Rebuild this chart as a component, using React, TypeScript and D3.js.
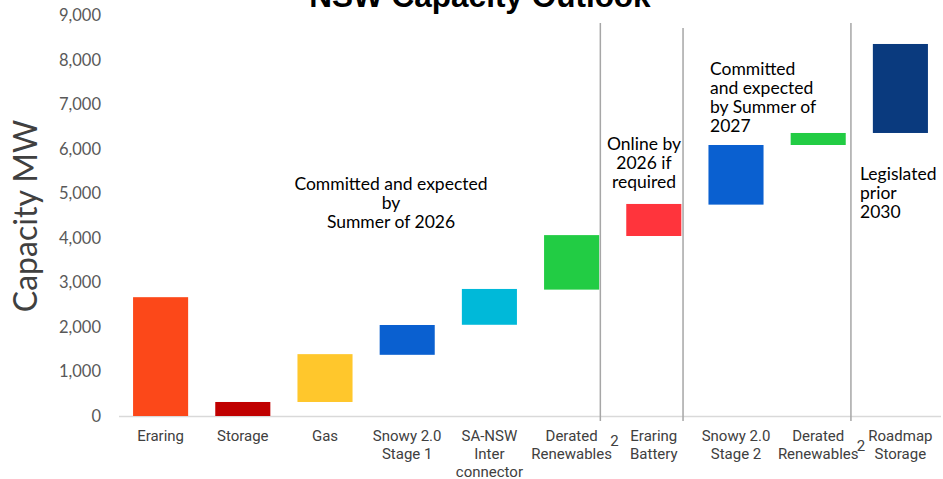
import React from "react";
import * as d3 from "d3";

const categories = ["Eraring", "Storage", "Gas", "Snowy 2.0 Stage 1", "SA-NSW Inter connector", "Derated Renewables", "Eraring Battery", "Snowy 2.0 Stage 2", "Derated Renewables", "Roadmap Storage"];
const categoryLines = [["Eraring"], ["Storage"], ["Gas"], ["Snowy 2.0", "Stage 1"], ["SA-NSW", "Inter", "connector"], ["Derated", "Renewables"], ["Eraring", "Battery"], ["Snowy 2.0", "Stage 2"], ["Derated", "Renewables"], ["Roadmap", "Storage"]];
const bottoms = [0, 0, 315, 1375, 2050, 2840, 4045, 4750, 6090, 6360];
const tops = [2670, 315, 1390, 2045, 2855, 4065, 4765, 6090, 6360, 8360];
const colors = ["#FC4819", "#C00000", "#FFC72C", "#0A60D0", "#00B9D9", "#22CC44", "#FF343C", "#0A60D0", "#22CC44", "#0A3A7E"];
const yTicks = [0, 1000, 2000, 3000, 4000, 5000, 6000, 7000, 8000, 9000];
const separatorsAfter = [5, 6, 8];
const separatorOffsets = [1.2, 1.7, 5.2];
const separatorTops = [23, 28, 23];

export default function App() {
  const W = 943, H = 479;
  const x = d3.scaleBand<number>().domain(d3.range(categories.length)).range([119.5, 941.5]).paddingInner(0.33).paddingOuter(0.165);
  const y = d3.scaleLinear().domain([0, 9000]).range([416, 15.5]);
  const fmt = d3.format(",");
  const annFont = "Lato, 'Open Sans', sans-serif";
  const labFont = "'Liberation Sans Narrow', 'Roboto', sans-serif";
  return (
    <svg width={W} height={H} style={{ position: "absolute", left: 0, top: 0, background: "#fff" }}>
      <text x={480} y={7} textAnchor="middle" fontFamily="'Liberation Sans', Arial, sans-serif" fontWeight="bold" fontSize={31.5} fill="#000">NSW Capacity Outlook</text>
      {yTicks.map((t) => (
        <text key={t} x={101} y={y(t)} dy="0.35em" textAnchor="end" fontFamily={annFont} fontSize={16.5} fill="#595959">{fmt(t)}</text>
      ))}
      <text transform={`translate(37,216) rotate(-90)`} textAnchor="middle" fontFamily={annFont} fontSize={32} fill="#404040">Capacity MW</text>
      <line x1={119} x2={941} y1={416.5} y2={416.5} stroke="#d9d9d9" strokeWidth={1.5} />
      {separatorsAfter.map((i, k) => {
        const sx = x(i)! + x.bandwidth() + separatorOffsets[k];
        return <line key={k} x1={sx} x2={sx} y1={separatorTops[k]} y2={421} stroke="#a6a6a6" strokeWidth={1.5} />;
      })}
      {categories.map((c, i) => (
        <rect key={i} x={x(i)} width={x.bandwidth()} y={y(tops[i])} height={y(bottoms[i]) - y(tops[i])} fill={colors[i]} />
      ))}
      {categoryLines.map((lines, i) => (
        <text key={i} textAnchor="middle" fontFamily={labFont} fontSize={15} fill="#404040">
          {lines.map((l, j) => (
            <tspan key={j} x={x(i)! + x.bandwidth() / 2} y={441 + j * 18}>{l}</tspan>
          ))}
        </text>
      ))}
      <text x={x(5)! + x.bandwidth() + 11} y={446} fontFamily={labFont} fontSize={15} fill="#404040">2</text>
      <text x={x(8)! + x.bandwidth() + 11} y={451} fontFamily={labFont} fontSize={15} fill="#404040">2</text>
      <text textAnchor="middle" fontFamily={annFont} fontSize={17.5} fill="#000">
        {["Committed and expected", "by", "Summer of 2026"].map((l, j) => (
          <tspan key={j} x={391} y={190 + j * 19}>{l}</tspan>
        ))}
      </text>
      <text textAnchor="middle" fontFamily={annFont} fontSize={17.5} fill="#000">
        {["Online by", "2026 if", "required"].map((l, j) => (
          <tspan key={j} x={644} y={150 + j * 19}>{l}</tspan>
        ))}
      </text>
      <text textAnchor="start" fontFamily={annFont} fontSize={17.5} fill="#000">
        {["Committed", "and expected", "by Summer of", "2027"].map((l, j) => (
          <tspan key={j} x={710} y={75 + j * 19}>{l}</tspan>
        ))}
      </text>
      <text textAnchor="start" fontFamily={annFont} fontSize={17.5} fill="#000">
        {["Legislated", "prior", "2030"].map((l, j) => (
          <tspan key={j} x={860} y={180 + j * 19}>{l}</tspan>
        ))}
      </text>
    </svg>
  );
}
